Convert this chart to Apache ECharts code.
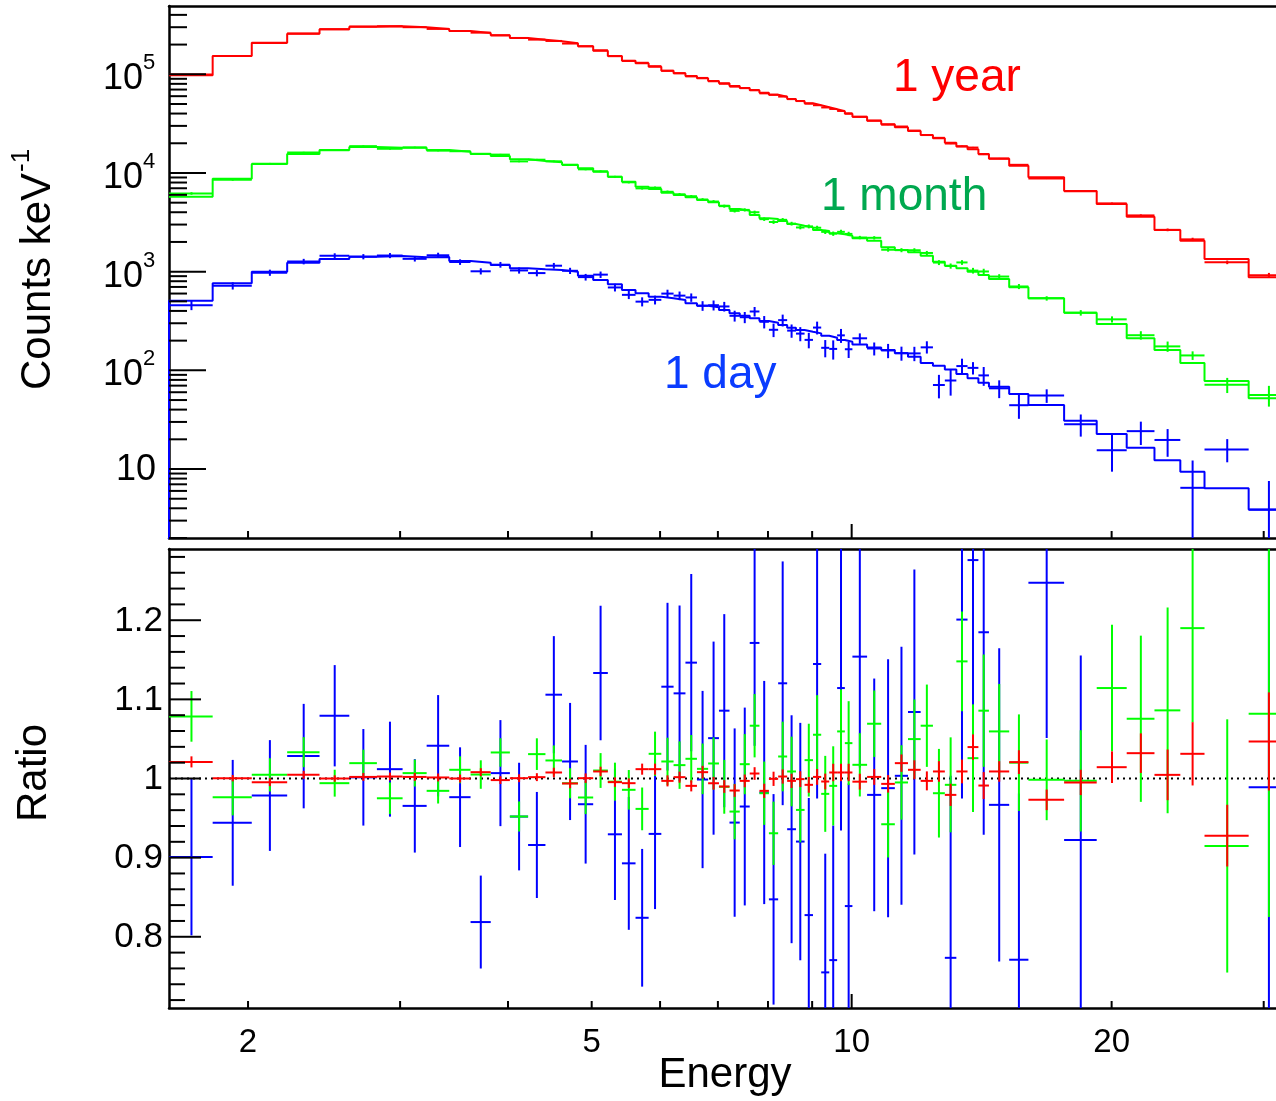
<!DOCTYPE html>
<html><head><meta charset="utf-8">
<script src="https://cdn.jsdelivr.net/npm/echarts@6/dist/echarts.min.js"></script>
<style>html,body{margin:0;padding:0;background:#fff}#c{width:1276px;height:1101px}</style>
</head><body><div id="c"></div>
<script>
// ---------------- DATA ----------------
const binEdges = [1.62,1.82,2.02,2.22,2.42,2.62,2.82,3.02,3.22,3.42,3.62,3.82,4.02,4.22,4.42,4.62,4.82,5.02,5.22,5.42,
  5.62,5.82,6.02,6.22,6.42,6.62,6.82,7.02,7.22,7.42,7.62,7.82,8.02,8.22,8.42,8.62,8.82,9.02,9.22,9.42,
  9.62,9.82,10.02,10.42,10.82,11.22,11.62,12.02,12.42,12.82,13.22,13.62,14.02,14.42,15.22,16.02,17.62,19.22,20.82,22.42,
  24.02,25.62,28.82,32.02];

const redModel = [97700,153300,209000,258000,286000,304000,306600,299500,287900,274700,
  262200,248500,233300,224200,216000,206200,192200,173500,153300,137300,
  129300,119400,108800,102400,96100,91100,85500,81000,76100,72600,
  68800,65100,62100,59300,56200,53600,50800,48500,46300,44200,
  42200,39900,37200,33900,31100,29000,26600,24300,22500,20300,
  18500,17400,15600,13900,11850,9040,6570,4850,3600,2640,
  2060,1340,876];

const greenModel = [5750,8750,12330,15570,17100,18340,18040,18040,17100,16430,
  15570,14860,13760,13220,12830,12130,11150,10300,9170,8160,
  7260,6880,6310,5980,5670,5320,5040,4660,4310,4150,
  3750,3470,3420,3260,3040,2920,2810,2640,2580,2450,
  2390,2310,2180,2060,1770,1660,1570,1450,1260,1150,
  1080,999,925,842,694,537,384,295,211,161,
  119,78,52];

const blueModel = [508,762,999,1232,1343,1417,1440,1397,1407,1282,
  1232,1168,1081,1056,1039,999,910,823,744,652,
  603,557,537,516,478,452,435,409,378,358,
  337,316,304,288,270,256,246,237,224,214,
  203,195,183,170,161,149,137,119,111,102,
  92,83,75,68,57.5,44.5,30.9,22.6,16.4,12.3,
  9.4,6.37,3.9];

const redRatio = [1.021,1.0004,0.9954,1.0046,1.000,1.002,1.0025,1.002,1.0013,1.000,
  1.008,0.998,1.0004,1.0017,1.0076,0.9937,1.0004,1.0089,0.9954,0.9941,
  1.0118,1.0118,0.997,1.0017,0.9907,1.008,0.994,0.9899,0.9848,0.997,
  1.0063,0.9844,0.9996,1.0025,0.997,0.9992,0.992,1.002,0.9962,1.0076,
  1.0076,1.0076,0.996,1.002,0.9932,1.0194,1.011,0.997,1.0089,0.9793,
  1.0089,1.0397,0.9911,1.0089,1.0207,0.973,0.995,1.0143,1.032,1.0046,
  1.0312,0.9278,1.0468];
const redRatioErr = [0.007,0.004,0.005,0.005,0.004,0.005,0.005,0.005,0.005,0.005,
  0.005,0.005,0.005,0.005,0.006,0.006,0.006,0.006,0.006,0.006,
  0.007,0.007,0.007,0.007,0.007,0.008,0.008,0.008,0.008,0.008,
  0.008,0.009,0.009,0.009,0.009,0.010,0.010,0.010,0.010,0.011,
  0.011,0.011,0.010,0.010,0.011,0.011,0.012,0.012,0.013,0.014,
  0.015,0.016,0.017,0.013,0.015,0.013,0.016,0.020,0.025,0.032,
  0.040,0.039,0.062];

const greenRatio = [1.0785,0.9764,1.0046,1.0333,0.9941,1.0194,0.975,1.0068,0.9844,1.011,
  1.005,1.0329,0.952,1.0308,1.0228,0.994,0.976,1.0101,0.996,0.9857,
  0.9616,1.0312,1.0215,1.0169,1.0249,1.0122,1.019,0.9895,0.9582,1.0181,
  1.0667,0.9814,0.9308,1.0278,1.0089,0.9603,1.0232,1.0553,0.9806,0.9907,
  1.0595,1.0447,1.0173,1.0692,0.9422,0.995,1.0498,1.0667,0.9814,0.992,
  1.148,1.0257,1.0857,1.0595,1.02,0.9983,0.997,1.1143,1.0755,1.0861,
  1.19,0.9148,1.0819];
const greenRatioErr = [0.032,0.023,0.021,0.019,0.017,0.017,0.020,0.017,0.016,0.017,
  0.018,0.018,0.019,0.020,0.019,0.019,0.021,0.022,0.024,0.025,
  0.027,0.028,0.030,0.030,0.030,0.032,0.033,0.034,0.035,0.038,
  0.040,0.040,0.040,0.044,0.044,0.041,0.046,0.050,0.048,0.050,
  0.053,0.053,0.040,0.042,0.042,0.047,0.050,0.052,0.056,0.060,
  0.063,0.068,0.071,0.060,0.061,0.051,0.064,0.080,0.105,0.130,
  0.119,0.160,0.257];

const blueRatio = [0.9008,0.944,0.9785,1.0283,1.0793,1.0015,1.0118,0.9654,1.0414,0.9764,
  0.8186,1.0068,0.9519,0.916,1.1059,1.0215,0.9675,1.1333,0.9295,0.8928,
  0.824,0.93,1.116,1.1076,1.1464,0.9987,1.051,1.0857,0.9443,0.9646,
  1.1713,0.9823,0.8473,1.1203,0.9359,0.9203,0.8274,1.1447,0.755,0.7705,
  1.1143,0.8388,1.154,0.9793,0.9878,1.0034,1.084,null,null,0.7734,
  1.2008,1.276,1.1848,0.9667,0.771,1.2473,0.9224,null,null,null,
  null,null,0.989];
const blueRatioErr = [0.099,0.0795,0.070,0.066,0.064,0.061,0.060,0.059,0.064,0.063,
  0.0587,0.067,0.068,0.067,0.074,0.074,0.075,0.085,0.083,0.084,
  0.087,0.095,0.106,0.111,0.112,0.112,0.122,0.122,0.119,0.125,
  0.130,0.141,0.133,0.154,0.144,0.150,0.148,0.170,0.150,0.170,
  0.180,0.155,0.140,0.147,0.163,0.163,0.180,null,null,0.230,
  0.226,0.183,0.256,0.198,0.210,0.196,0.233,null,null,null,
  null,null,0.950];

// blue counts seen only in the upper panel (ratio off the lower panel)
const blueTopBins = [47,48,57,58,59,60,61];
const blueTopVal  = [171,71,15.5,24.2,19.7,6.45,15.8];
const blueTopLow  = [148,52,9.4,17.5,13.3,2.0,11.7];
const blueTopHigh = [197,90,22.6,30.2,25.4,12.2,20.1];

const xTickValues = [2,3,4,5,6,7,8,9,10,20,30];
const xTickLabels = [2,5,10,20];
const yTopDecades = [10,100,1000,10000,100000];
const yTopExponents = ['','2','3','4','5'];
const yBotMajor = [0.8,0.9,1.0,1.1,1.2];
const yBotLabels = ['0.8','0.9','1','1.1','1.2'];

// ---------------- AXIS RANGES ----------------
const XMIN = 1.62, XMAX = 31.0;
const YMIN_TOP = 2.0, YMAX_TOP = 4.92e5;
const YMIN_BOT = 0.71, YMAX_BOT = 1.29;

const FONT = '"Liberation Sans", Arial, Helvetica, sans-serif';
const RED = '#ff0000', GREEN = '#00ff00', BLUE = '#0000ff';

function stepData(model, leadLow) {
  const d = [];
  if (leadLow) d.push([binEdges[0], leadLow]);
  for (let i = 0; i < binEdges.length; i++) d.push([binEdges[i], model[Math.min(i, model.length - 1)]]);
  return d;
}
function crossData(ratio, err, model) {
  const out = [];
  for (let i = 0; i < ratio.length; i++) {
    if (ratio[i] == null) continue;
    const lo = binEdges[i], hi = binEdges[i + 1];
    if (model) {
      const v = model[i] * ratio[i], e = model[i] * err[i];
      out.push([lo, hi, v, Math.max(v - e, 1e-3), v + e]);
    } else {
      out.push([lo, hi, ratio[i], ratio[i] - err[i], ratio[i] + err[i]]);
    }
  }
  return out;
}
function crossRender(color) {
  return function (params, api) {
    const lo = api.value(0), hi = api.value(1), v = api.value(2), el = api.value(3), eh = api.value(4);
    const mid = (lo + hi) / 2;
    const a = api.coord([lo, v]), b = api.coord([hi, v]);
    const c1 = api.coord([mid, el]), c2 = api.coord([mid, eh]);
    return {type: 'group', children: [
      {type: 'line', shape: {x1: a[0], y1: a[1], x2: b[0], y2: b[1]}, style: {stroke: color, lineWidth: 2}},
      {type: 'line', shape: {x1: c1[0], y1: c1[1], x2: c2[0], y2: c2[1]}, style: {stroke: color, lineWidth: 2}}
    ]};
  };
}
function stepSeries(name, model, color, lead) {
  return {name, type: 'line', xAxisIndex: 0, yAxisIndex: 0, data: stepData(model, lead), step: 'end',
    symbol: 'none', clip: true, lineStyle: {color, width: 2}, z: 3};
}
function crossSeries(name, data, color, xi, yi) {
  return {name, type: 'custom', xAxisIndex: xi, yAxisIndex: yi, clip: true, data,
    encode: {x: [0, 1], y: [2, 3, 4]}, renderItem: crossRender(color), z: 4};
}
const isDecade = v => Math.abs(Math.log10(v) - Math.round(Math.log10(v))) < 1e-6;

const blueTopData = crossData(blueRatio, blueRatioErr, blueModel);
blueTopBins.forEach((b, k) => blueTopData.push([binEdges[b], binEdges[b + 1], blueTopVal[k], blueTopLow[k], blueTopHigh[k]]));

const yTopMinor = [];
for (let k = 0; k <= 5; k++) for (let m = 2; m <= 9; m++) {
  const v = m * Math.pow(10, k);
  if (v >= YMIN_TOP && v <= YMAX_TOP) yTopMinor.push(v);
}
const yTopTicks = yTopDecades.concat(yTopMinor);
const yBotTicks = [];
for (let k = 36; k <= 64; k++) yBotTicks.push(k / 50);

function xTickSeries(xi, yi, ymin) {
  return {type: 'custom', xAxisIndex: xi, yAxisIndex: yi, clip: false, silent: true, z: 6,
    data: xTickValues.map(v => [v, ymin]),
    renderItem: (p, api) => {
      const v = api.value(0);
      const c = api.coord([v, api.value(1)]);
      const len = isDecade(v) ? 14 : 7;
      return {type: 'line', shape: {x1: c[0], y1: c[1], x2: c[0], y2: c[1] - len}, style: {stroke: '#000', lineWidth: 2}};
    }};
}

const option = {
  animation: false,
  backgroundColor: '#ffffff',
  textStyle: {fontFamily: FONT},
  grid: [
    {left: 169, right: 0, top: 6, height: 532},
    {left: 169, right: 0, top: 549, height: 459}
  ],
  xAxis: [
    {type: 'log', gridIndex: 0, min: XMIN, max: XMAX, axisLine: {show: true, onZero: false, lineStyle: {color: '#000', width: 2.5}}, axisTick: {show: false}, axisLabel: {show: false}, splitLine: {show: false}},
    {type: 'value', gridIndex: 0, position: 'top', min: 0, max: 1, axisLine: {show: true, onZero: false, lineStyle: {color: '#000', width: 2.5}}, axisTick: {show: false}, axisLabel: {show: false}, splitLine: {show: false}},
    {type: 'log', gridIndex: 1, min: XMIN, max: XMAX, axisLine: {show: true, onZero: false, lineStyle: {color: '#000', width: 2.5}}, axisTick: {show: false}, axisLabel: {show: false}, splitLine: {show: false}},
    {type: 'value', gridIndex: 1, position: 'top', min: 0, max: 1, axisLine: {show: true, onZero: false, lineStyle: {color: '#000', width: 2.5}}, axisTick: {show: false}, axisLabel: {show: false}, splitLine: {show: false}}
  ],
  yAxis: [
    {type: 'log', gridIndex: 0, min: YMIN_TOP, max: YMAX_TOP, axisLine: {show: true, onZero: false, lineStyle: {color: '#000', width: 2.5}}, axisTick: {show: false}, axisLabel: {show: false}, splitLine: {show: false}},
    {type: 'value', gridIndex: 1, min: YMIN_BOT, max: YMAX_BOT, axisLine: {show: true, onZero: false, lineStyle: {color: '#000', width: 2.5}}, axisTick: {show: false}, axisLabel: {show: false}, splitLine: {show: false}}
  ],
  series: [
    // upper panel
    stepSeries('blueModel', blueModel, BLUE, 1e-3),
    crossSeries('blueData', blueTopData, BLUE, 0, 0),
    stepSeries('greenModel', greenModel, GREEN),
    crossSeries('greenData', crossData(greenRatio, greenRatioErr, greenModel), GREEN, 0, 0),
    stepSeries('redModel', redModel, RED),
    crossSeries('redData', crossData(redRatio, redRatioErr, redModel), RED, 0, 0),
    // lower panel
    {type: 'line', xAxisIndex: 2, yAxisIndex: 1, data: [[XMIN, 1], [XMAX, 1]], symbol: 'none', silent: true, z: 2,
      lineStyle: {color: '#000', width: 2, type: [2, 4]}},
    crossSeries('blueRatio', crossData(blueRatio, blueRatioErr), BLUE, 2, 1),
    crossSeries('greenRatio', crossData(greenRatio, greenRatioErr), GREEN, 2, 1),
    crossSeries('redRatio', crossData(redRatio, redRatioErr), RED, 2, 1),
    // ticks
    xTickSeries(0, 0, YMIN_TOP),
    xTickSeries(2, 1, YMIN_BOT),
    {type: 'custom', xAxisIndex: 2, yAxisIndex: 1, clip: false, silent: true, z: 6,
      data: xTickLabels.map(v => [v, YMIN_BOT]),
      renderItem: (p, api) => {
        const v = api.value(0);
        const c = api.coord([v, api.value(1)]);
        return {type: 'text', x: c[0], y: c[1] + 35, style: {text: String(v), font: '33px ' + FONT, fill: '#000', align: 'center', verticalAlign: 'middle'}};
      }},
    {type: 'custom', xAxisIndex: 0, yAxisIndex: 0, clip: false, silent: true, z: 6,
      data: yTopTicks.map(v => [XMIN, v]),
      renderItem: (p, api) => {
        const v = api.value(1);
        const c = api.coord([api.value(0), v]);
        const len = isDecade(v) ? 37 : 18;
        return {type: 'line', shape: {x1: c[0], y1: c[1], x2: c[0] + len, y2: c[1]}, style: {stroke: '#000', lineWidth: 2}};
      }},
    {type: 'custom', xAxisIndex: 0, yAxisIndex: 0, clip: false, silent: true, z: 6,
      data: yTopDecades.map((v, i) => [XMIN, v, i]),
      renderItem: (p, api) => {
        const v = api.value(1);
        const i = api.value(2);
        const c = api.coord([api.value(0), v]);
        const ex = yTopExponents[i];
        if (!ex) {
          return {type: 'text', x: c[0] - 13, y: c[1] + 1, style: {text: '10', font: '36px ' + FONT, fill: '#000', align: 'right', verticalAlign: 'middle'}};
        }
        return {type: 'group', children: [
          {type: 'text', x: c[0] - 26, y: c[1] + 5, style: {text: '10', font: '36px ' + FONT, fill: '#000', align: 'right', verticalAlign: 'middle'}},
          {type: 'text', x: c[0] - 26, y: c[1] - 11, style: {text: ex, font: '22px ' + FONT, fill: '#000', align: 'left', verticalAlign: 'middle'}}
        ]};
      }},
    {type: 'custom', xAxisIndex: 2, yAxisIndex: 1, clip: false, silent: true, z: 6,
      data: yBotTicks.map(v => [XMIN, v]),
      renderItem: (p, api) => {
        const v = api.value(1);
        const c = api.coord([api.value(0), v]);
        const major = Math.abs(v * 10 - Math.round(v * 10)) < 1e-6;
        const len = major ? 32 : 16;
        return {type: 'line', shape: {x1: c[0], y1: c[1], x2: c[0] + len, y2: c[1]}, style: {stroke: '#000', lineWidth: 2}};
      }},
    {type: 'custom', xAxisIndex: 2, yAxisIndex: 1, clip: false, silent: true, z: 6,
      data: yBotMajor.map((v, i) => [XMIN, v, i]),
      renderItem: (p, api) => {
        const c = api.coord([api.value(0), api.value(1)]);
        return {type: 'text', x: c[0] - 6, y: c[1] + 1, style: {text: yBotLabels[api.value(2)], font: '35px ' + FONT, fill: '#000', align: 'right', verticalAlign: 'middle'}};
      }}
  ],
  graphic: []
};

// axis titles & curve labels
const mctx = document.createElement('canvas').getContext('2d');
mctx.font = '42px ' + FONT;
const wCounts = mctx.measureText('Counts keV').width;
option.graphic = [
  {type: 'text', x: 38, y: 390, rotation: Math.PI / 2, style: {text: 'Counts keV', font: '42px ' + FONT, fill: '#000', align: 'left', verticalAlign: 'middle'}},
  {type: 'text', x: 22, y: 390 - wCounts - 1, rotation: Math.PI / 2, style: {text: '-1', font: '26px ' + FONT, fill: '#000', align: 'left', verticalAlign: 'middle'}},
  {type: 'text', x: 34, y: 773, rotation: Math.PI / 2, style: {text: 'Ratio', font: '42px ' + FONT, fill: '#000', align: 'center', verticalAlign: 'middle'}},
  {type: 'text', x: 725, y: 1075, style: {text: 'Energy', font: '42px ' + FONT, fill: '#000', align: 'center', verticalAlign: 'middle'}},
  {type: 'text', x: 893, y: 78, style: {text: '1 year', font: '46px ' + FONT, fill: '#ff0000', align: 'left', verticalAlign: 'middle'}},
  {type: 'text', x: 821, y: 197, style: {text: '1 month', font: '46px ' + FONT, fill: '#00a84f', align: 'left', verticalAlign: 'middle'}},
  {type: 'text', x: 664, y: 375, style: {text: '1 day', font: '46px ' + FONT, fill: '#0a3cff', align: 'left', verticalAlign: 'middle'}}
];

const chart = echarts.init(document.getElementById('c'), null, {renderer: 'canvas'});
chart.setOption(option);
</script>
</body></html>
